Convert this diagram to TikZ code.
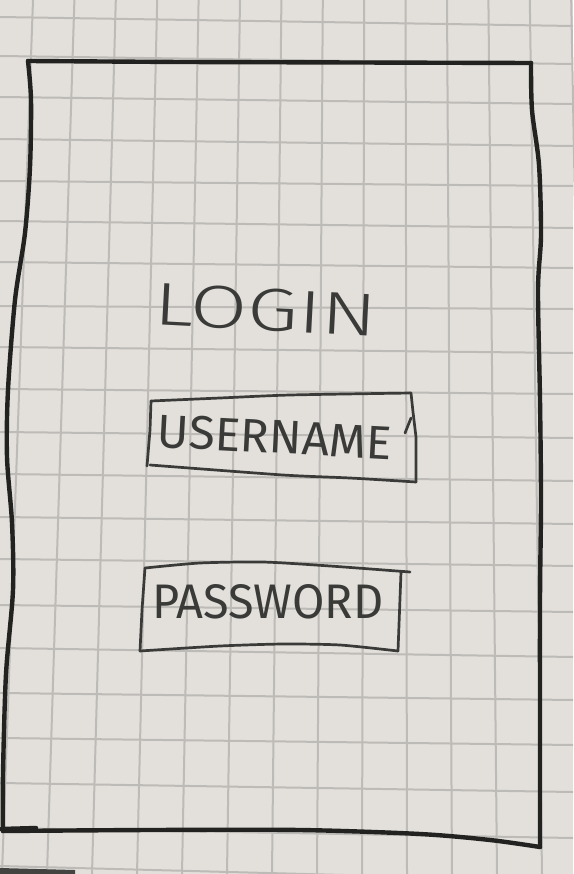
\documentclass[tikz,border=0pt]{standalone}
\usepackage{fontspec}
\usepackage{graphicx}
% thin sans for the pencilled lettering
\IfFontExistsTF{Fira Sans Light}{\newfontfamily\hand{Fira Sans Light}}{\newfontfamily\hand{Fira Sans}}
\newfontfamily\handfield{Fira Sans}
\definecolor{paper}{RGB}{227,224,219}
\definecolor{gridline}{RGB}{189,187,183}
\definecolor{ink}{RGB}{34,34,32}
\definecolor{pencil}{RGB}{58,58,56}

\begin{document}
\begin{tikzpicture}[x=1pt,y=-1pt,
  gridrule/.style={draw=gridline,line width=2pt},
  frame/.style={draw=ink,line width=4.4pt,line join=round,line cap=round},
  field/.style={draw=pencil,line width=2.7pt,line join=round,line cap=round},
  lettering/.style={text=pencil,inner sep=0pt,font=\hand}]

% squared paper
\fill[paper] (0,0) rectangle (573,874);
\useasboundingbox (0,0) rectangle (573,874);
\foreach \t/\b in {33/2,74.4/47,115.8/92,157.2/137,198.6/182,240/227,281.4/272,
                   322.8/317,364.2/362,405.6/407,447/452,488.4/497,529.8/542,571.2/587}
  \draw[gridrule] (\t,0) -- (\b,874);
\foreach \l/\r in {17/26,56/64,97/104,139/146,181/186,221/228,262/268,306/309,
                   347/353,389/394,432/438,474/481,517/524,559/566,605/612,
                   648/657,693/700,738/745,783/792,828/838,866/881}
  \draw[gridrule] (0,\l) -- (573,\r);

% phone outline
\coordinate (tl) at (28,61);
\coordinate (tr) at (531,63);
\coordinate (br) at (540,847);
\coordinate (bl) at (3,831);
\draw[frame] (tl) -- (180,62) -- (tr);
\draw[frame] plot[smooth,tension=0.5] coordinates
  {(531,63) (532,110) (539,165) (541,235) (538,290) (540,400) (541,500) (540,600) (540,760) (540,847)};
\draw[frame] plot[smooth,tension=0.5] coordinates
  {(540,847) (490,840) (420,834) (300,830) (150,830) (3,831)};
\draw[frame] plot[smooth,tension=0.5] coordinates
  {(3,831) (3,774) (6,674) (13,590) (12,523) (7,457) (8,390) (15,300) (25,233) (30,167) (31,100) (28,61)};
\draw[frame] (0,829) -- (36,828);

% table edge showing at the bottom corner
\fill[ink!85] (0,868) -- (75,870) -- (75,874) -- (0,874) -- cycle;

% title
\node[lettering,rotate=-3] (title) at (266,310) {\resizebox{223pt}{42pt}{LOGIN}};

% username field
\draw[field] plot[smooth,tension=0.4] coordinates {(151,401) (220,398) (290,395) (411,393)};
\draw[field] (411,393) -- (413,412) -- (416,437) -- (416,482);
\draw[field] plot[smooth,tension=0.4] coordinates {(416,482) (350,478) (283,475) (150,465)};
\draw[field] (147,466) -- (150,430) -- (151,401);
\draw[field] (405,433) -- (411,418);
\node[lettering,font=\handfield,rotate=-3] (user) at (275,437) {\resizebox{235pt}{33pt}{USERNAME}};

% password field
\draw[field] plot[smooth,tension=0.4] coordinates {(145,568) (200,563) (263,562) (330,566) (410,572)};
\draw[field] (401,572) -- (398,651);
\draw[field] plot[smooth,tension=0.4] coordinates {(398,651) (340,645) (283,644) (220,646) (140,651)};
\draw[field] (140,651) -- (142,610) -- (145,568);
\node[lettering,font=\handfield] (pass) at (268,602) {\resizebox{231pt}{34pt}{PASSWORD}};
\end{tikzpicture}
\end{document}
